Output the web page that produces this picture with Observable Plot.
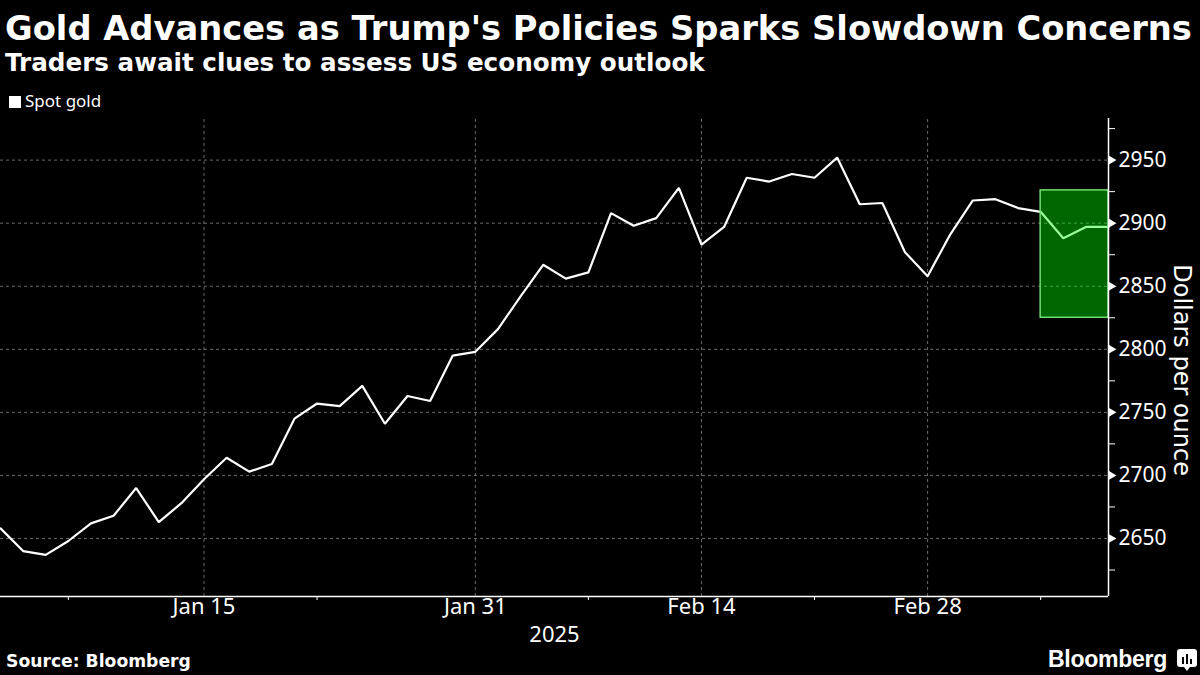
<!DOCTYPE html>
<html>
<head>
<meta charset="utf-8">
<script src="https://cdn.jsdelivr.net/npm/d3@7"></script>
<script src="https://cdn.jsdelivr.net/npm/@observablehq/plot@0.6"></script>
<style>
  html, body { margin: 0; padding: 0; background: #000; }
  #wrap { position: relative; width: 1200px; height: 675px; overflow: hidden; background: #000; color: #fff; }
  .t { position: absolute; white-space: nowrap; line-height: 1; display: inline-block; }
  #title { left: 5px; top: 9px; font: bold 32px "DejaVu Sans"; }
  #subtitle { left: 5px; top: 48px; font: bold 22px "DejaVu Sans"; }
  #legend { left: 9px; top: 90px; font: 17px "Noto Sans"; line-height: 1.3; }
  #legend .sw { display: inline-block; width: 12px; height: 12px; background: #fff; margin-right: 4px; vertical-align: -1px; }
  #source { left: 6px; top: 651px; font: bold 17px "DejaVu Sans"; }
  #brand { left: 1048px; top: 646px; font: bold 22px "Liberation Sans"; letter-spacing: -0.3px; }
  #icon { position: absolute; left: 1177px; top: 649px; }
  #chart { position: absolute; left: 0; top: 110px; }
</style>
</head>
<body>
<div id="wrap">
  <div id="chart"></div>
  <div class="t" id="title"></div>
  <div class="t" id="subtitle"></div>
  <div class="t" id="legend"><span class="sw"></span><span id="legtxt"></span></div>
  <div class="t" id="source"></div>
  <div class="t" id="brand"></div>
  <svg id="icon" width="20" height="23" viewBox="0 0 20 23">
    <rect x="0" y="0" width="20" height="18" rx="3" fill="#fff"/>
    <path d="M7 18 L10 22 L13 18 Z" fill="#fff"/>
    <rect x="5" y="8" width="2" height="7" fill="#000"/>
    <rect x="9" y="5" width="2" height="10" fill="#000"/>
    <rect x="13" y="10" width="2" height="5" fill="#000"/>
  </svg>
</div>
<script>
// ---- Data ----
const titleText = "Gold Advances as Trump's Policies Sparks Slowdown Concerns";
const subtitleText = "Traders await clues to assess US economy outlook";
const seriesName = "Spot gold";
const sourceText = "Source: Bloomberg";
const brandText = "Bloomberg";
const yAxisLabel = "Dollars per ounce";
const yearLabel = "2025";

const dates = [
  "2025-01-02","2025-01-03","2025-01-06","2025-01-07","2025-01-08","2025-01-09","2025-01-10",
  "2025-01-13","2025-01-14","2025-01-15","2025-01-16","2025-01-17",
  "2025-01-20","2025-01-21","2025-01-22","2025-01-23","2025-01-24",
  "2025-01-27","2025-01-28","2025-01-29","2025-01-30","2025-01-31",
  "2025-02-03","2025-02-04","2025-02-05","2025-02-06","2025-02-07",
  "2025-02-10","2025-02-11","2025-02-12","2025-02-13","2025-02-14",
  "2025-02-17","2025-02-18","2025-02-19","2025-02-20","2025-02-21",
  "2025-02-24","2025-02-25","2025-02-26","2025-02-27","2025-02-28",
  "2025-03-03","2025-03-04","2025-03-05","2025-03-06","2025-03-07",
  "2025-03-10","2025-03-11","2025-03-12"
];
const prices = [
  2658, 2640, 2637, 2648, 2662, 2668, 2690,
  2663, 2678, 2697, 2714, 2703,
  2709, 2745, 2757, 2755, 2771,
  2741, 2763, 2759, 2795, 2798,
  2816, 2842, 2867, 2856, 2861,
  2908, 2898, 2904, 2928, 2883,
  2897, 2936, 2933, 2939, 2936,
  2952, 2915, 2916, 2877, 2858,
  2891, 2918, 2919, 2912, 2909,
  2888, 2897, 2897
];
const majorTickDates = ["2025-01-15","2025-01-31","2025-02-14","2025-02-28"];
const majorTickLabels = ["Jan 15","Jan 31","Feb 14","Feb 28"];
const minorTickDates = ["2025-01-07","2025-01-22","2025-02-07","2025-02-21","2025-03-07"];
const yMajorTicks = [2650, 2700, 2750, 2800, 2850, 2900, 2950];
const yMinorTicks = [2625, 2675, 2725, 2775, 2825, 2875, 2925, 2975];
const yDomain = [2604, 2983];
const boxStartDate = "2025-03-07";
const boxEndDate = "2025-03-12";
const boxLow = 2825;
const boxHigh = 2926;

// ---- Build ----
const idx = d => dates.indexOf(d);
const rows = dates.map((d, i) => ({i, date: d, price: prices[i]}));
const majorIdx = majorTickDates.map(idx);
const minorIdx = minorTickDates.map(idx);
const lastIdx = dates.length - 1;
const box = [{x1: idx(boxStartDate), x2: idx(boxEndDate), y1: boxLow, y2: boxHigh}];
const yMid = (yDomain[0] + yDomain[1]) / 2 - 10;

document.getElementById("title").textContent = titleText;
document.getElementById("subtitle").textContent = subtitleText;
document.getElementById("legtxt").textContent = seriesName;
document.getElementById("source").textContent = sourceText;
document.getElementById("brand").textContent = brandText;

const grid = {stroke: "#8c8c8c", strokeOpacity: 0.75, strokeDasharray: "3,3", strokeWidth: 1};

const chart = Plot.plot({
  width: 1200,
  height: 560,
  marginTop: 8,
  marginBottom: 74,
  marginLeft: 0,
  marginRight: 92,
  x: {domain: [0, lastIdx]},
  y: {domain: yDomain},
  style: {background: "transparent", color: "#fff", fontFamily: "Noto Sans", fontSize: "21px", overflow: "visible"},
  marks: [
    Plot.ruleY(yMajorTicks, {y: d => d, x1: 0, x2: lastIdx, ...grid}),
    Plot.ruleX(majorIdx, {x: d => d, y1: yDomain[0], y2: yDomain[1], ...grid}),
    Plot.line(rows, {x: "i", y: "price", stroke: "#fff", strokeWidth: 2.2, strokeLinejoin: "miter"}),
    Plot.rect(box, {x1: "x1", x2: "x2", y1: "y1", y2: "y2", fill: "#00ff00", fillOpacity: 0.4, stroke: "#6fe06f", strokeWidth: 1.5}),
    Plot.ruleY([yDomain[0]], {stroke: "#fff", strokeWidth: 1.5}),
    Plot.ruleX([lastIdx], {stroke: "#fff", strokeWidth: 1.5}),
    Plot.axisX(minorIdx, {tickSize: 4, tickFormat: () => "", label: null, stroke: "#fff"}),
    Plot.axisX(majorIdx, {tickSize: 0, tickPadding: 2, tickFormat: d => majorTickLabels[majorIdx.indexOf(d)], label: null, fontSize: 22, fill: "#fff"}),
    Plot.axisY(yMinorTicks, {anchor: "right", tickSize: 6, tickFormat: () => "", label: null, stroke: "#fff"}),
    Plot.dot(yMajorTicks, {x: () => lastIdx, y: d => d, symbol: "triangle", rotate: 90, r: 3.2, fill: "#fff", stroke: null, dx: 3}),
    Plot.axisY(yMajorTicks, {anchor: "right", tickSize: 0, tickPadding: 10, tickFormat: d => String(d), label: null, fontSize: 21, fill: "#fff"}),
    Plot.text([yearLabel], {x: () => lastIdx / 2, y: () => yDomain[0], text: d => d, dy: 38, fontSize: 22, fill: "#fff"}),
    Plot.text([yAxisLabel], {x: () => lastIdx, y: () => yMid, text: d => d, rotate: 90, dx: 73, fontSize: 24, fontFamily: "DejaVu Sans", fill: "#fff"})
  ]
});
document.getElementById("chart").appendChild(chart);

function fit(id, target) {
  const el = document.getElementById(id);
  const fs = parseFloat(getComputedStyle(el).fontSize);
  const w = el.getBoundingClientRect().width;
  if (w > 0) el.style.fontSize = (fs * target / w) + "px";
}
fit("title", 1187);
fit("subtitle", 700);
fit("source", 185);
fit("brand", 119);
</script>
</body>
</html>
